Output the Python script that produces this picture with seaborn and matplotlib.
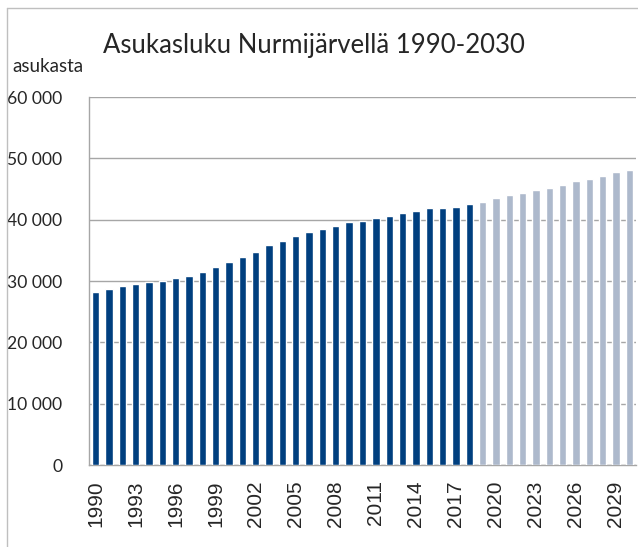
import matplotlib
matplotlib.use("Agg")
import matplotlib.pyplot as plt
import seaborn as sns
import pandas as pd
from matplotlib.lines import Line2D
from matplotlib.ticker import FuncFormatter

# Asukasluku vuosittain (luettu kuvasta)
years = list(range(1990, 2031))
population = [
    28160, 28700, 29190, 29570, 29790, 29950, 30440, 30870, 31470, 32340,
    33150, 33900, 34700, 35900, 36470, 37340, 37940, 38540, 38980, 39570,
    39840, 40220, 40650, 41040, 41470, 41850, 41850, 42120, 42530,
    42930, 43530, 43970, 44400, 44840, 45220, 45650, 46250, 46690, 47130,
    47730, 48160,
]
last_actual = 2018
y_ticks = [0, 10000, 20000, 30000, 40000, 50000, 60000]

dark = "#003F7F"
light = "#ADB9CC"

df = pd.DataFrame({"year": [str(y) for y in years], "pop": population})
df["kind"] = ["toteutunut" if y <= last_actual else "ennuste" for y in years]

sns.set_style("white")
fig = plt.figure(figsize=(6.38, 5.47), dpi=100)
ax = fig.add_axes([89 / 638, 1 - 465 / 547, (636 - 89) / 638, (465 - 97) / 547])

sns.barplot(data=df, x="year", y="pop", hue="kind", order=df["year"],
            palette={"toteutunut": dark, "ennuste": light}, saturation=1,
            dodge=False, width=0.55, legend=False, ax=ax, zorder=3)

ax.set_xlim(-0.5, len(years) - 0.5)
ax.set_ylim(0, 60000)
ax.set_yticks(y_ticks)
ax.yaxis.set_major_formatter(FuncFormatter(lambda v, p: f"{int(v):,}".replace(",", " ")))
ax.grid(axis="y", color="#A6A6A6", linewidth=1, zorder=0)
ax.set_axisbelow(True)

# labels every third year, tick marks between every category
label_pos = list(range(0, len(years), 3))
ax.set_xticks(label_pos)
ax.set_xticklabels([str(years[i]) for i in label_pos], rotation=90,
                   fontsize=15, family="Liberation Sans")
ax.set_xticks([i - 0.5 for i in range(len(years) + 1)], minor=True)
ax.tick_params(axis="x", which="major", length=0, pad=11)
ax.tick_params(axis="x", which="minor", length=7, width=1, color="#A6A6A6", direction="out")
ax.tick_params(axis="y", length=7, width=1, color="#A6A6A6", direction="out",
               labelsize=12.6, pad=12)
for lab in ax.get_yticklabels():
    lab.set_family("Lato")

ax.set_xlabel("")
ax.set_ylabel("")
for side in ["top", "right"]:
    ax.spines[side].set_visible(False)
for side in ["left", "bottom"]:
    ax.spines[side].set_color("#A6A6A6")
    ax.spines[side].set_linewidth(1)

fig.text(103 / 638, 1 - 45 / 547, "Asukasluku Nurmijärvellä 1990-2030",
         fontsize=18.5, family="Lato", va="center", ha="left")
fig.text(12 / 638, 1 - 67 / 547, "asukasta", fontsize=13.5, family="Lato",
         va="center", ha="left")

# chart border
fig.add_artist(Line2D([7 / 638, 7 / 638], [0, 1 - 8 / 547], color="#BFBFBF",
                      linewidth=1, transform=fig.transFigure))
fig.add_artist(Line2D([7 / 638, 1], [1 - 8 / 547, 1 - 8 / 547], color="#BFBFBF",
                      linewidth=1, transform=fig.transFigure))

fig.savefig("out.png", dpi=100)
